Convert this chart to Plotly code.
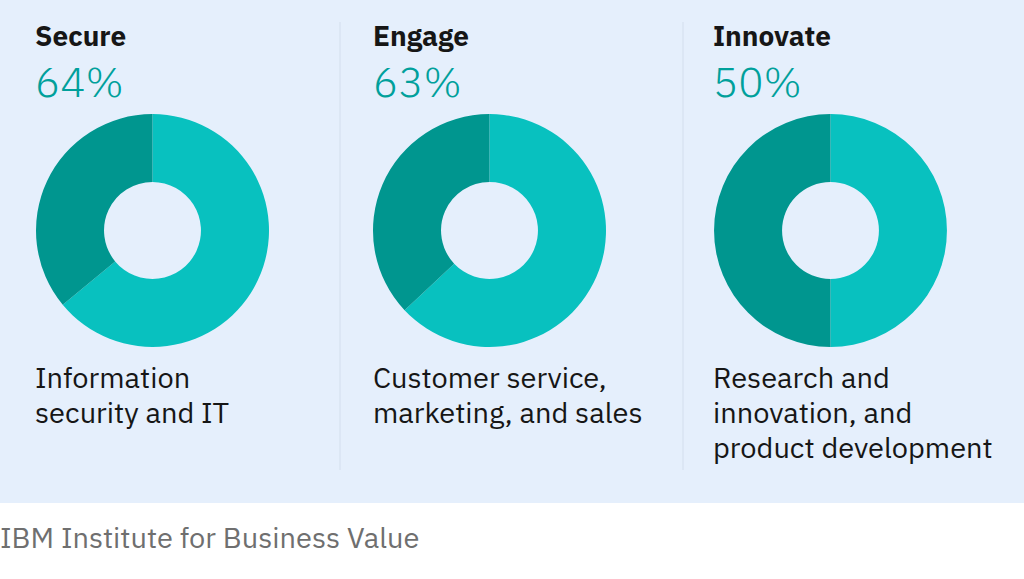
import plotly.graph_objects as go

W, H = 1024, 579

titles = ["Secure", "Engage", "Innovate"]
percents = [64, 63, 50]
label_lines = [
    ["Information", "security and IT"],
    ["Customer service,", "marketing, and sales"],
    ["Research and", "innovation, and", "product development"],
]
source = "IBM Institute for Business Value"

# layout in pixels
centers_x = [152.5, 489.5, 830.5]
center_y = 230.5
radius = 116.5
text_x = [32.5, 370.5, 710.5]
sep_x = [340, 683]
line_y0, line_dy = 377, 35

main_color = "#08c1bf"
rest_color = "#00968f"
pct_color = "#00a09b"
font_family = "IBM Plex Sans, Noto Sans, Open Sans, sans-serif"

fig = go.Figure()

for i, (t, p) in enumerate(zip(titles, percents)):
    cx = centers_x[i]
    x0 = (cx - radius) / W
    x1 = (cx + radius) / W
    y0 = 1 - (center_y + radius) / H
    y1 = 1 - (center_y - radius) / H
    fig.add_trace(go.Pie(
        values=[p, 100 - p],
        labels=[t, "Other"],
        hole=0.416,
        sort=False,
        direction="clockwise",
        rotation=0,
        textinfo="none",
        hoverinfo="label+percent",
        marker=dict(colors=[main_color, rest_color], line=dict(width=0)),
        domain=dict(x=[x0, x1], y=[y0, y1]),
        showlegend=False,
    ))

shapes = [
    dict(type="rect", xref="paper", yref="paper", x0=0, x1=1,
         y0=1 - 503 / H, y1=1, fillcolor="#e5effc", line=dict(width=0), layer="below"),
]
for sx in sep_x:
    shapes.append(dict(type="line", xref="paper", yref="paper",
                       x0=sx / W, x1=sx / W, y0=1 - 470 / H, y1=1 - 22 / H,
                       line=dict(color="#d3deed", width=1)))

annotations = []
for i in range(3):
    annotations.append(dict(
        text="<b>" + titles[i] + "</b>", x=text_x[i] / W, y=1 - 35 / H,
        xref="paper", yref="paper", xanchor="left", yanchor="middle",
        showarrow=False, font=dict(family=font_family, size=28, color="#161616")))
    annotations.append(dict(
        text=f"{percents[i]}%", x=text_x[i] / W, y=1 - 81 / H,
        xref="paper", yref="paper", xanchor="left", yanchor="middle",
        showarrow=False, font=dict(family=font_family, size=42, color=pct_color, weight=300)))
    for j, ln in enumerate(label_lines[i]):
        annotations.append(dict(
            text=ln, x=text_x[i] / W, y=1 - (line_y0 + j * line_dy) / H,
            xref="paper", yref="paper", xanchor="left", yanchor="middle", align="left",
            showarrow=False, font=dict(family=font_family, size=29, color="#161616")))

annotations.append(dict(
    text=source, x=-2 / W, y=1 - 537 / H, xref="paper", yref="paper",
    xanchor="left", yanchor="middle", showarrow=False,
    font=dict(family=font_family, size=29, color="#6f6f6f")))

fig.update_layout(
    width=W, height=H,
    margin=dict(l=0, r=0, t=0, b=0),
    paper_bgcolor="white", plot_bgcolor="white",
    shapes=shapes, annotations=annotations,
)

fig.write_html("out.html", config={"displayModeBar": False},
               post_script="document.body.style.margin='0';document.body.style.overflow='hidden';")
